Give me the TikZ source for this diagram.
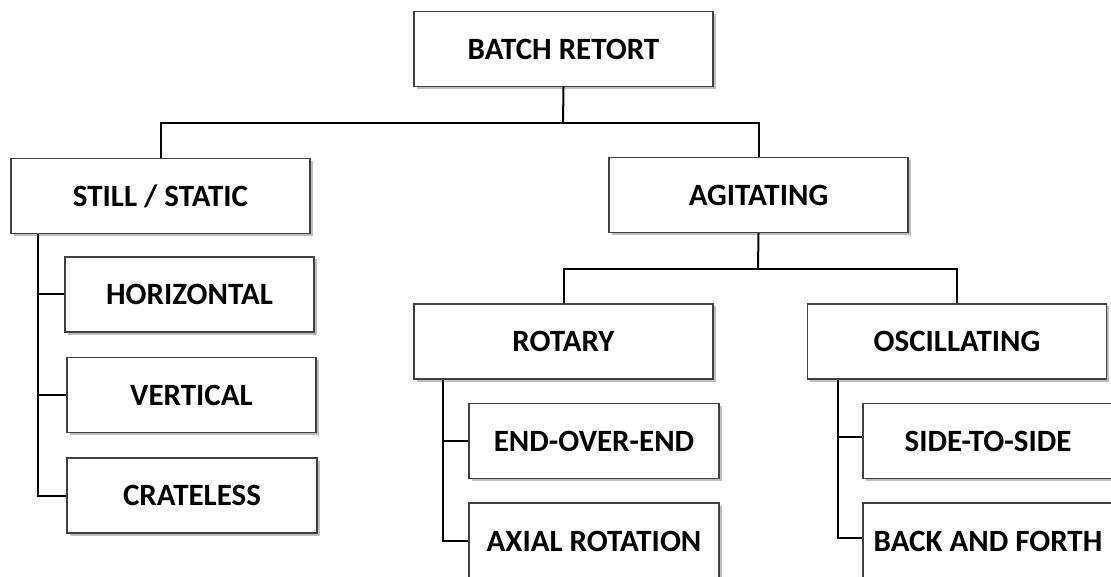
\documentclass[tikz,border=0pt]{standalone}
\usepackage{fontspec}
\setmainfont{Carlito}
\usetikzlibrary{shadows}
\begin{document}
\begin{tikzpicture}[x=1pt,y=-1pt,
  box/.style={draw=black!75,line width=1.2pt,fill=white,rectangle,inner sep=0pt,
    minimum width=#1,minimum height=75pt,
    font=\bfseries\fontsize{31}{34}\selectfont,
    drop shadow={shadow xshift=2.5pt,shadow yshift=-2.5pt,fill=black,opacity=0.25}},
  box/.default=299pt,
  link/.style={draw=black,line width=2pt}]
\useasboundingbox (0,0) rectangle (1111,577);
\fill[white] (0,0) rectangle (1111,577);
\node[box] (batch) at (563.5,49) {BATCH RETORT};
\node[box] (still) at (160.5,196) {STILL / STATIC};
\node[box] (agit) at (758.5,195) {AGITATING};
\node[box] (rotary) at (563.5,341.5) {ROTARY};
\node[box] (osc) at (957,341.5) {OSCILLATING};
\node[box=249pt] (horiz) at (189.5,294.5) {HORIZONTAL};
\node[box=249pt] (vert) at (191.5,395) {VERTICAL};
\node[box=250pt] (crate) at (192,495.5) {CRATELESS};
\node[box=250pt] (eoe) at (594,441) {END-OVER-END};
\node[box=250pt,minimum height=76pt] (axial) at (594,541) {AXIAL ROTATION};
\node[box=250pt] (side) at (988,441) {SIDE-TO-SIDE};
\node[box=250pt,minimum height=76pt] (back) at (988,541) {BACK AND FORTH};
\coordinate (bus1) at (563,123);
\coordinate (bus2) at (758,269);
\draw[link] (batch.south) -- (bus1);
\draw[link] (still.north) |- (bus1) -| (agit.north);
\draw[link] (agit.south) -- (bus2);
\draw[link] (rotary.north) |- (bus2) -| (osc.north);
\coordinate (s1) at ([xshift=28pt]still.south west);
\draw[link] (s1) |- (crate.west);
\draw[link] (s1 |- horiz.west) -- (horiz.west);
\draw[link] (s1 |- vert.west) -- (vert.west);
\coordinate (s2) at ([xshift=30pt]rotary.south west);
\draw[link] (s2) |- (axial.west);
\draw[link] (s2 |- eoe.west) -- (eoe.west);
\coordinate (s3) at ([xshift=31pt]osc.south west);
\draw[link] (s3) |- ([yshift=3pt]back.west);
\draw[link] ([yshift=4pt]s3 |- side.west) -- ([yshift=4pt]side.west);
\end{tikzpicture}
\end{document}
